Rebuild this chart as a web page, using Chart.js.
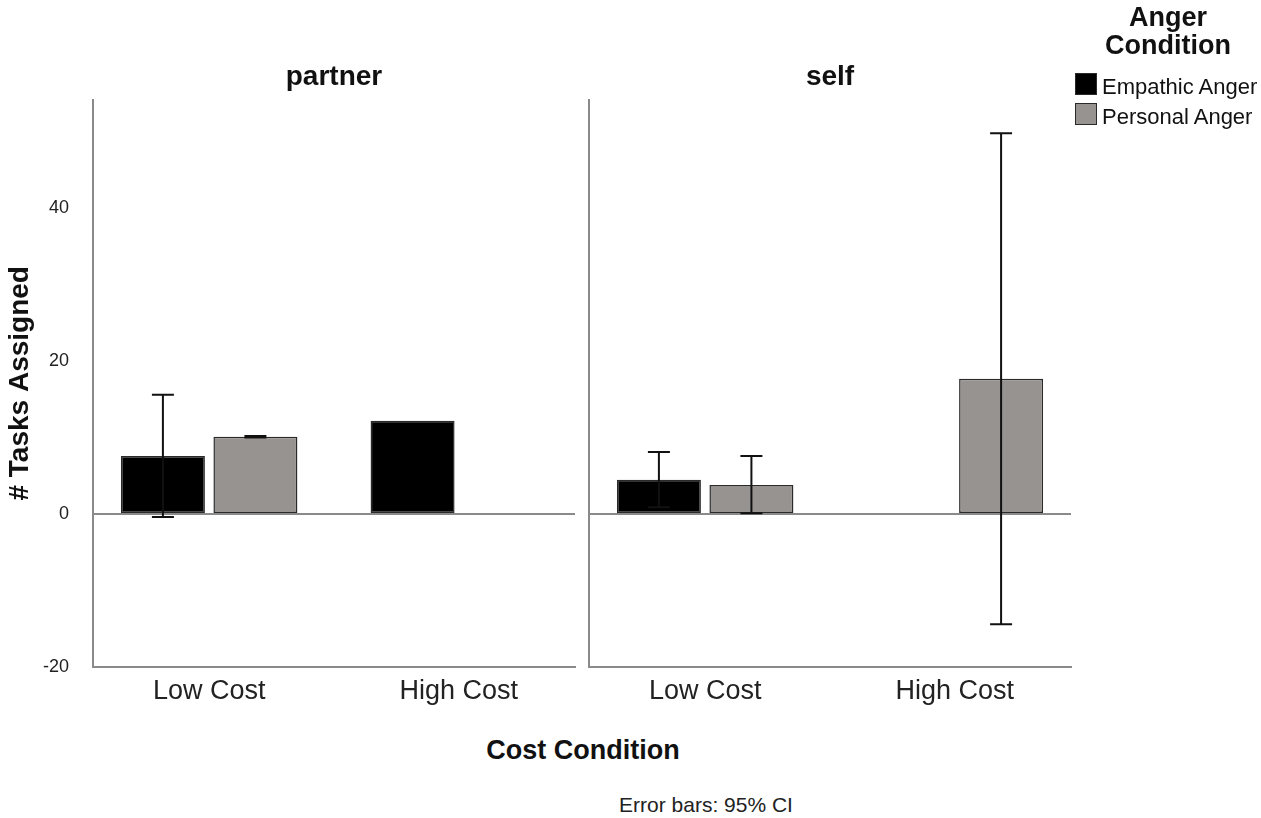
<!DOCTYPE html>
<html>
<head>
<meta charset="utf-8">
<script src="https://cdn.jsdelivr.net/npm/chart.js@4.4.0/dist/chart.umd.min.js"></script>
<style>
  html, body { margin:0; padding:0; background:#fff; }
  body { width:1261px; height:818px; position:relative; overflow:hidden; font-family:"Liberation Sans", Arial, sans-serif; color:#111; }
  .abs { position:absolute; }
  #c1 { left:0; top:0; }
  #c2 { left:582px; top:0; }
  .legtitle { left:1068px; width:200px; top:4px; text-align:center; font-weight:bold; font-size:27px; line-height:27.5px; }
  .legitem { left:1075px; font-size:22px; line-height:24px; display:flex; align-items:center; white-space:nowrap; }
  .legitem span { position:relative; top:3px; }
  .sw { width:20px; height:20px; border:1.5px solid #2a2a2a; margin-right:5px; }
  .xtitle { left:383px; width:400px; top:733px; text-align:center; font-weight:bold; font-size:27px; line-height:34px; }
  .note { left:556px; width:300px; top:792px; text-align:center; font-size:21px; line-height:26px; color:#222; }
</style>
</head>
<body>
<canvas id="c1" class="abs" width="582" height="720"></canvas>
<canvas id="c2" class="abs" width="493" height="720"></canvas>
<div class="abs legtitle">Anger<br>Condition</div>
<div class="abs legitem" style="top:72px"><div class="sw" id="sw0"></div><span id="lg0"></span></div>
<div class="abs legitem" style="top:102px"><div class="sw" id="sw1"></div><span id="lg1"></span></div>
<div class="abs xtitle">Cost Condition</div>
<div class="abs note">Error bars: 95% CI</div>
<script>
// ---- data ----
const categories = ['Low Cost', 'High Cost'];
const panels = ['partner', 'self'];
const seriesNames = ['Empathic Anger', 'Personal Anger'];
const seriesColors = ['#000000', '#979391'];

const partnerEmpathic = [7.6, 12.2];
const partnerEmpathicLo = [-0.4, null];
const partnerEmpathicHi = [15.6, null];
const partnerPersonal = [10.1, null];
const partnerPersonalLo = [10.0, null];
const partnerPersonalHi = [10.2, null];

const selfEmpathic = [4.5, null];
const selfEmpathicLo = [0.9, null];
const selfEmpathicHi = [8.1, null];
const selfPersonal = [3.8, 17.7];
const selfPersonalLo = [0.1, -14.4];
const selfPersonalHi = [7.6, 49.8];

const yTickValues = [-20, 0, 20, 40];
const yMin = -20, yMax = 54.2;

// ---- legend ----
seriesNames.forEach((n, i) => {
  document.getElementById('lg' + i).textContent = n;
  document.getElementById('sw' + i).style.background = seriesColors[i];
});

const FONT = '"Liberation Sans", Arial, sans-serif';
// fractional positions of the two category centres across each panel (layout)
const CAT_FRAC_A = 0.241, CAT_FRAC_B = 0.759;

const errorBarPlugin = {
  id: 'errorBars',
  afterDatasetsDraw(chart) {
    const ctx = chart.ctx;
    const ys = chart.scales.y;
    chart.data.datasets.forEach((ds, di) => {
      const meta = chart.getDatasetMeta(di);
      meta.data.forEach((el, i) => {
        const lo = ds.errLo[i], hi = ds.errHi[i];
        if (lo == null || hi == null || ds.data[i] == null) return;
        const x = el.x;
        const y1 = ys.getPixelForValue(lo), y2 = ys.getPixelForValue(hi);
        ctx.save();
        ctx.strokeStyle = '#111';
        ctx.lineWidth = 2;
        ctx.beginPath();
        ctx.moveTo(x, y1); ctx.lineTo(x, y2);
        ctx.moveTo(x - 11, y1); ctx.lineTo(x + 11, y1);
        ctx.moveTo(x - 11, y2); ctx.lineTo(x + 11, y2);
        ctx.stroke();
        ctx.restore();
      });
    });
  }
};

function makeChart(id, title, emp, empLo, empHi, per, perLo, perHi, showY) {
  return new Chart(document.getElementById(id), {
    type: 'bar',
    data: {
      labels: categories,
      datasets: [
        { label: seriesNames[0], data: emp, errLo: empLo, errHi: empHi,
          backgroundColor: seriesColors[0], borderColor: '#2a2a2a', borderWidth: 1.5, borderSkipped: false },
        { label: seriesNames[1], data: per, errLo: perLo, errHi: perHi,
          backgroundColor: seriesColors[1], borderColor: '#2a2a2a', borderWidth: 1.5, borderSkipped: false }
      ]
    },
    options: {
      responsive: false,
      animation: false,
      events: [],
      categoryPercentage: 0.741,
      barPercentage: 0.908,
      layout: { padding: showY ? { top: 0, left: 0, right: 7, bottom: 0 } : { top: 0, left: 7, right: 4, bottom: 0 } },
      plugins: {
        legend: { display: false },
        tooltip: { enabled: false },
        title: { display: true, text: title, color: '#111', fullSize: false,
                 font: { family: FONT, size: 28, weight: 'bold' },
                 padding: { top: 60, bottom: 6 } }
      },
      scales: {
        x: {
          grid: { display: false, drawTicks: false },
          border: { display: true, color: '#8a8a8a', width: 2 },
          ticks: { color: '#222', font: { family: FONT, size: 27 }, padding: 8 },
          afterBuildTicks: (s) => {
            s._valueRange = 1 / (CAT_FRAC_B - CAT_FRAC_A);
            s._startValue = -CAT_FRAC_A * s._valueRange;
          },
          afterFit: (s) => { s.height = 53; }
        },
        y: {
          min: yMin, max: yMax,
          afterBuildTicks: (s) => { s.ticks = yTickValues.map(v => ({ value: v })); },
          grid: { drawTicks: false, lineWidth: 2,
                  color: (c) => (c.tick && c.tick.value === 0) ? '#8a8a8a' : 'rgba(0,0,0,0)' },
          border: { display: true, color: '#8a8a8a', width: 2 },
          ticks: { display: showY, color: '#222', font: { family: FONT, size: 18 }, padding: 24 },
          title: { display: showY, text: '# Tasks Assigned', color: '#111',
                   font: { family: FONT, size: 28, weight: 'bold' }, padding: { top: 3, bottom: 0 } },
          afterFit: (s) => { s.width = showY ? 93 : 0; }
        }
      }
    },
    plugins: [errorBarPlugin]
  });
}

makeChart('c1', panels[0], partnerEmpathic, partnerEmpathicLo, partnerEmpathicHi,
          partnerPersonal, partnerPersonalLo, partnerPersonalHi, true);
makeChart('c2', panels[1], selfEmpathic, selfEmpathicLo, selfEmpathicHi,
          selfPersonal, selfPersonalLo, selfPersonalHi, false);
</script>
</body>
</html>
